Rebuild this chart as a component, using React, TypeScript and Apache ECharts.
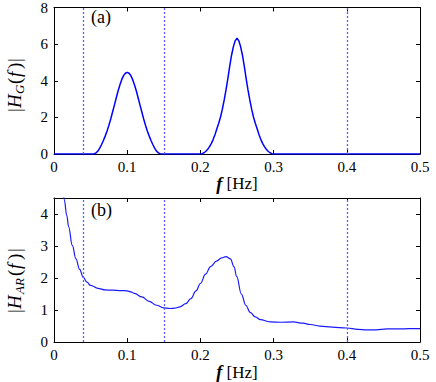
import React, { useEffect, useRef } from "react";
import * as echarts from "echarts";

// ---- data ----
const xTicks = [0, 0.1, 0.2, 0.3, 0.4, 0.5];
const bandEdges = [0.04, 0.15, 0.4];

// panel (a): |H_G(f)|
const freqsA = [
  0, 0.05, 0.0525, 0.055, 0.0575, 0.06, 0.0625, 0.065, 0.0675, 0.07, 0.0725, 0.075, 0.0775, 0.08,
  0.0825, 0.085, 0.0875, 0.09, 0.0925, 0.095, 0.0975, 0.1, 0.1025, 0.105, 0.1075, 0.11, 0.1125,
  0.115, 0.1175, 0.12, 0.1225, 0.125, 0.1275, 0.13, 0.1325, 0.135, 0.1375, 0.14, 0.1425, 0.145,
  0.1475, 0.2, 0.2025, 0.205, 0.2075, 0.21, 0.2125, 0.215, 0.2175, 0.22, 0.2225, 0.225, 0.2275,
  0.23, 0.2325, 0.235, 0.2375, 0.24, 0.2425, 0.245, 0.2475, 0.25, 0.2525, 0.255, 0.2575, 0.26,
  0.2625, 0.265, 0.2675, 0.27, 0.2725, 0.275, 0.2775, 0.28, 0.2825, 0.285, 0.2875, 0.29, 0.2925,
  0.295, 0.2975, 0.3, 0.5,
];
const hgValues = [
  0, 0, 0, 0.015, 0.06, 0.16, 0.32, 0.52, 0.74, 0.99, 1.26, 1.57, 1.91, 2.29,
  2.67, 3.06, 3.44, 3.77, 4.06, 4.28, 4.41, 4.46, 4.41, 4.28, 4.06, 3.77, 3.44,
  3.06, 2.67, 2.29, 1.91, 1.57, 1.26, 0.99, 0.74, 0.52, 0.32, 0.16, 0.06, 0.015,
  0, 0, 0.02, 0.07, 0.15, 0.26, 0.4, 0.58, 0.8, 1.07, 1.38, 1.68, 2.02,
  2.45, 2.95, 3.5, 4.12, 4.78, 5.38, 5.85, 6.18, 6.32, 6.18, 5.85, 5.38, 4.78,
  4.12, 3.5, 2.95, 2.45, 2.02, 1.68, 1.38, 1.07, 0.8, 0.58, 0.4, 0.26, 0.15,
  0.07, 0.02, 0, 0,
];

// panel (b): |H_AR(f)|
const freqsB = [
  0.004, 0.008, 0.011, 0.014, 0.0175, 0.02, 0.025, 0.03, 0.035, 0.04, 0.045, 0.05, 0.06, 0.07,
  0.08, 0.09, 0.1, 0.105, 0.11, 0.12, 0.13, 0.14, 0.15, 0.158, 0.165, 0.172, 0.18, 0.187, 0.194,
  0.2, 0.207, 0.214, 0.222, 0.229, 0.235, 0.241, 0.246, 0.2495, 0.256, 0.262, 0.268, 0.275, 0.282,
  0.295, 0.31, 0.327, 0.34, 0.35, 0.363, 0.38, 0.4, 0.415, 0.427, 0.44, 0.455, 0.47, 0.485, 0.5,
];
const harValues = [
  6.8, 5.6, 5.0, 4.45, 3.95, 3.6, 3.02, 2.6, 2.27, 2.02, 1.87, 1.77, 1.68, 1.63,
  1.62, 1.61, 1.6, 1.57, 1.52, 1.41, 1.27, 1.15, 1.07, 1.05, 1.06, 1.1, 1.2, 1.36, 1.6,
  1.83, 2.12, 2.36, 2.53, 2.63, 2.67, 2.6, 2.35, 2.05, 1.5, 1.15, 0.93, 0.79, 0.7,
  0.63, 0.62, 0.63, 0.59, 0.55, 0.5, 0.47, 0.44, 0.4, 0.38, 0.38, 0.41, 0.41, 0.42, 0.42,
];

const SERIF = "Liberation Serif";

function xAxes(grid: number, withName: boolean) {
  const common = {
    gridIndex: grid,
    type: "value",
    min: xTicks[0],
    max: xTicks[xTicks.length - 1],
    interval: 0.1,
    splitLine: { show: false },
    axisLine: { show: true, onZero: false, lineStyle: { color: "#000", width: 1 } },
    axisTick: { show: true, inside: true, length: 4, lineStyle: { color: "#000" } },
  };
  return [
    {
      ...common,
      position: "bottom",
      axisLabel: { margin: 5, fontSize: 15, fontFamily: SERIF, color: "#000" },
      name: withName ? "{i|f} [Hz]" : "",
      nameLocation: "middle",
      nameGap: 20,
      nameTextStyle: {
        fontSize: 17,
        fontFamily: SERIF,
        color: "#000",
        rich: { i: { fontStyle: "italic", fontWeight: "bold", fontSize: 18, fontFamily: SERIF, color: "#000" } },
      },
    },
    { ...common, position: "top", axisLabel: { show: false } },
  ];
}

function yAxes(grid: number, max: number, interval: number) {
  const common = {
    gridIndex: grid,
    type: "value",
    min: 0,
    max,
    interval,
    splitLine: { show: false },
    axisLine: { show: true, onZero: false, lineStyle: { color: "#000", width: 1 } },
    axisTick: { show: true, inside: true, length: 4, lineStyle: { color: "#000" } },
  };
  return [
    {
      ...common,
      position: "left",
      axisLabel: { margin: 6, fontSize: 15, fontFamily: SERIF, color: "#000", showMaxLabel: max % interval === 0 },
    },
    { ...common, position: "right", axisLabel: { show: false } },
  ];
}

function yName(x0: number, y0: number, sub: string, offs: number[]) {
  const parts = [
    { t: "|", italic: false, sub: false },
    { t: "H", italic: true, sub: false },
    { t: sub, italic: true, sub: true },
    { t: "(", italic: false, sub: false },
    { t: "f", italic: true, sub: false },
    { t: ")", italic: false, sub: false },
    { t: "|", italic: false, sub: false },
  ];
  return {
    type: "group",
    x: x0,
    y: y0,
    rotation: Math.PI / 2,
    children: parts.map((p, i) => ({
      type: "text",
      x: offs[i],
      y: p.sub ? 5 : 0,
      style: {
        text: p.t,
        fontFamily: SERIF,
        fill: "#000",
        fontSize: p.sub ? 13 : 19,
        fontStyle: p.italic ? "italic" : "normal",
        textAlign: "left",
        textVerticalAlign: "middle",
      },
    })),
  };
}

export default function App() {
  const ref = useRef<HTMLDivElement>(null);
  useEffect(() => {
    if (!ref.current) return;
    const chart = echarts.init(ref.current, undefined, { renderer: "svg" });
    const dataA = freqsA.map((f, i) => [f, hgValues[i]]);
    const dataB = freqsB.map((f, i) => [f, harValues[i]]);
    const markLine = () => ({
      silent: true,
      symbol: "none",
      label: { show: false },
      lineStyle: { type: [2, 2], color: "#5c5cff", width: 1.3 },
      data: bandEdges.map((v) => ({ xAxis: v })),
    });
    chart.setOption({
      animation: false,
      backgroundColor: "#fff",
      grid: [
        { left: 54, top: 5, width: 366, height: 149 },
        { left: 54, top: 198, width: 366, height: 150 },
      ],
      xAxis: [...xAxes(0, true), ...xAxes(1, true)],
      yAxis: [...yAxes(0, 8, 2), ...yAxes(1, 4.5, 1)],
      series: [
        {
          type: "line",
          xAxisIndex: 0,
          yAxisIndex: 0,
          data: dataA,
          showSymbol: false,
          lineStyle: { color: "#0000ff", width: 1.5 },
          markLine: markLine(),
        },
        {
          type: "line",
          xAxisIndex: 2,
          yAxisIndex: 2,
          data: dataB,
          showSymbol: false,
          smooth: 0.4,
          smoothMonotone: "x",
          clip: true,
          lineStyle: { color: "#1a1aff", width: 1.2 },
          markLine: markLine(),
        },
      ],
      graphic: [
        { type: "text", left: 91, top: 8, style: { text: "(a)", fontSize: 18, fontFamily: SERIF, fill: "#000" } },
        { type: "text", left: 91, top: 201, style: { text: "(b)", fontSize: 18, fontFamily: SERIF, fill: "#000" } },
        yName(14, 112, "G", [0, 4, 18, 28, 35, 43, 50]),
        yName(14, 313, "AR", [0, 4, 19, 37, 44, 53, 61]),
      ],
    });
    return () => chart.dispose();
  }, []);
  return <div ref={ref} style={{ position: "fixed", left: 0, top: 0, width: 436, height: 382 }} />;
}
